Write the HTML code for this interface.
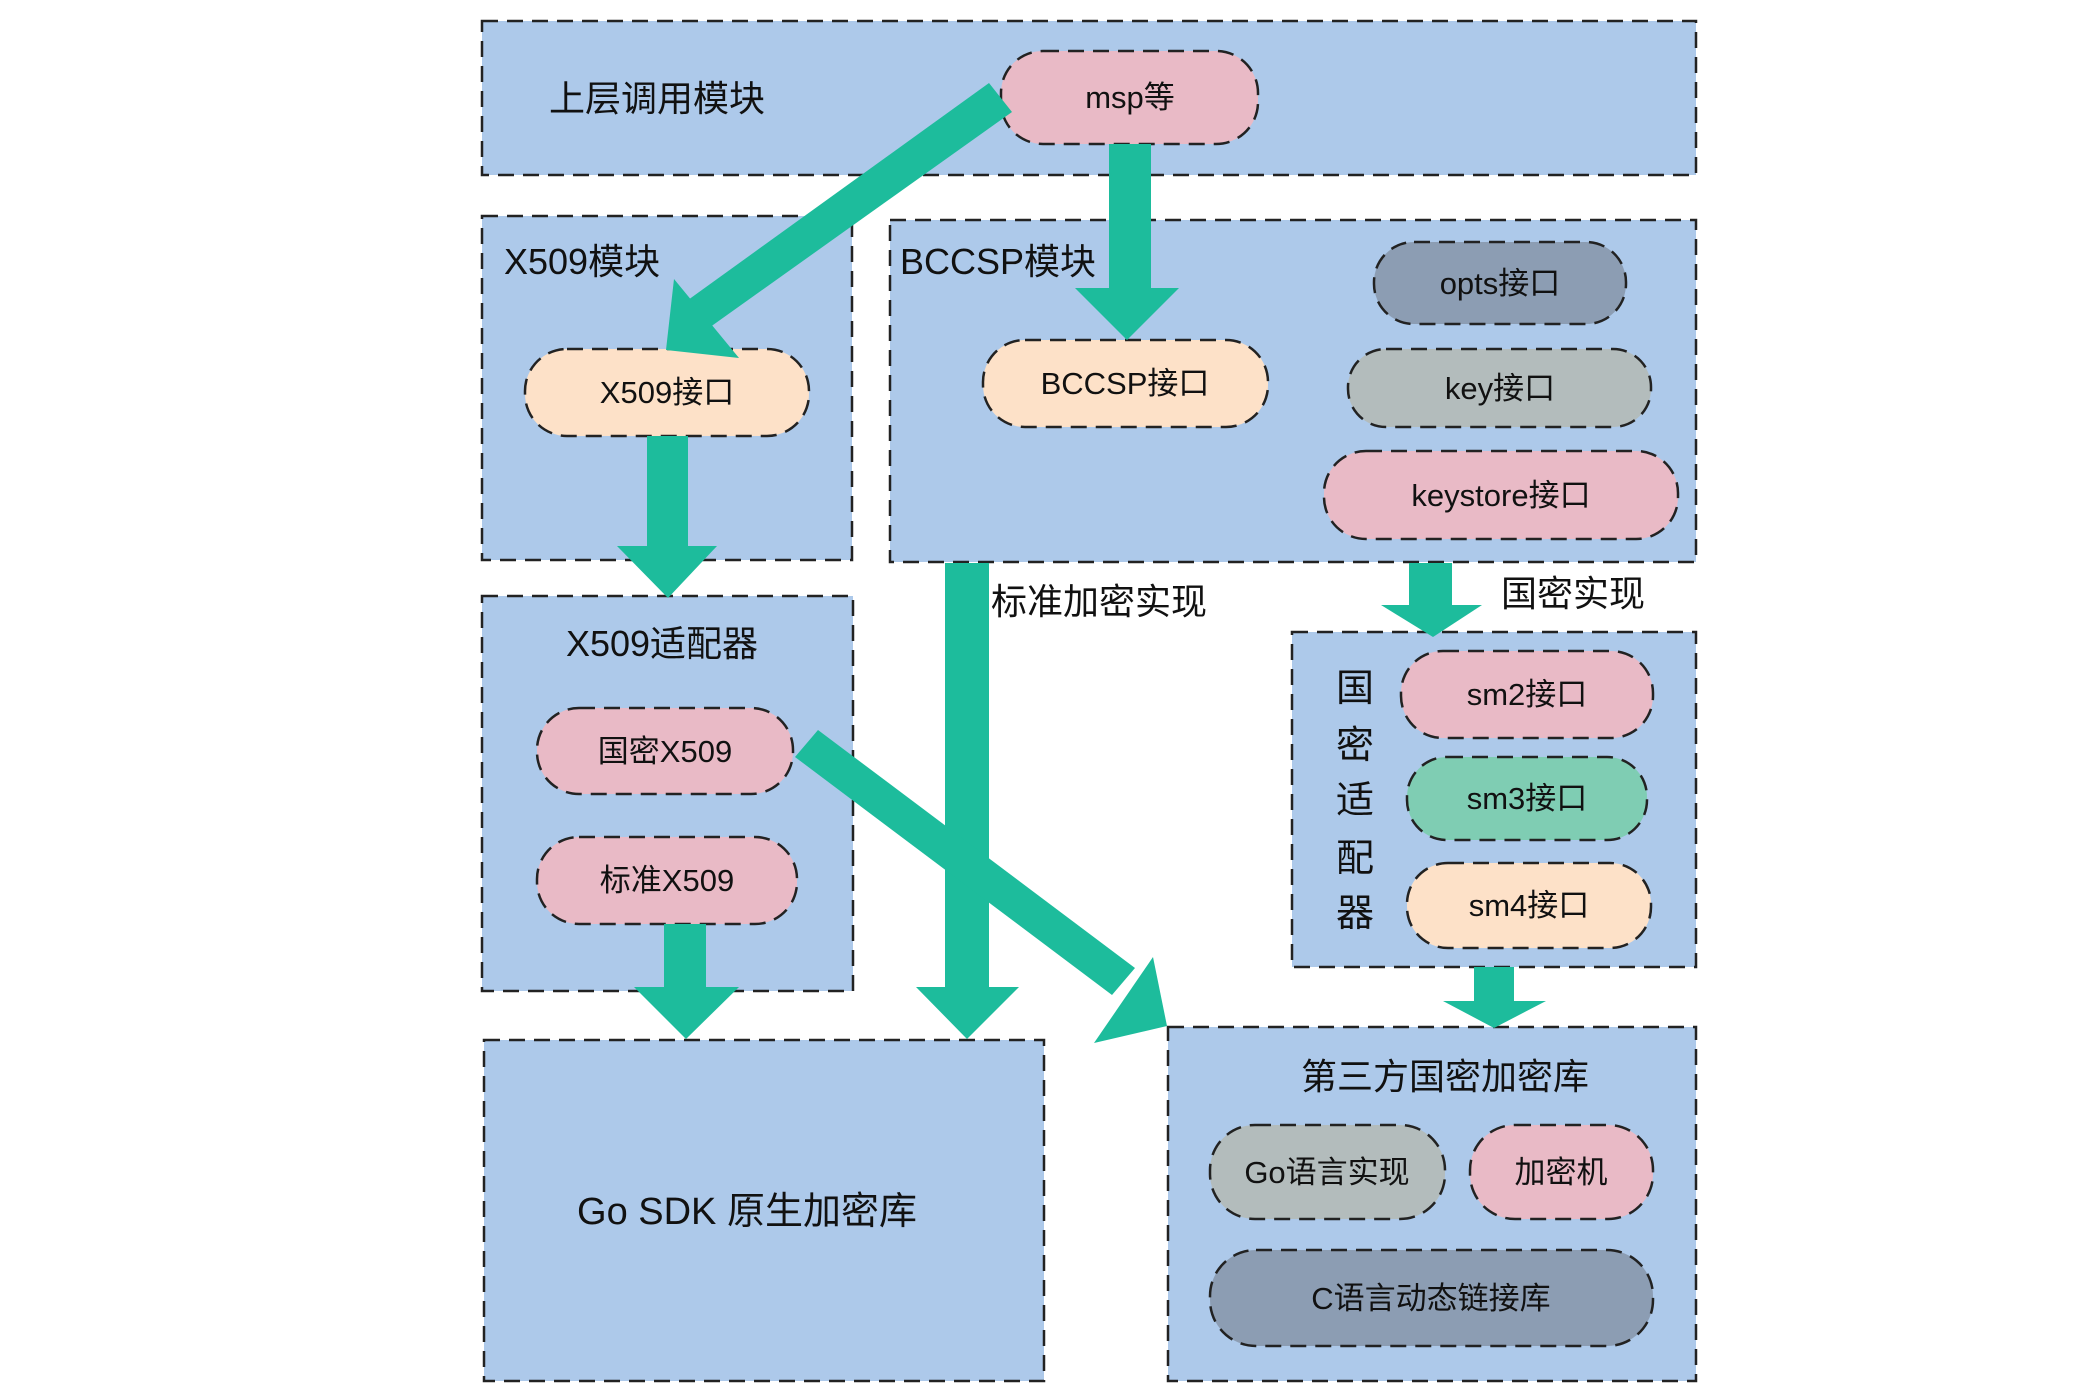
<!DOCTYPE html>
<html><head><meta charset="utf-8"><style>
html,body{margin:0;padding:0;background:#fff;}
svg{display:block;}
text{font-family:"Liberation Sans","Noto Sans CJK SC",sans-serif;fill:#111;}
</style></head><body>
<svg width="2090" height="1394" viewBox="0 0 2090 1394" xmlns="http://www.w3.org/2000/svg">
<g fill="#adc9ea" stroke="#222" stroke-width="2.5" stroke-dasharray="16 9">
<rect x="482" y="21" width="1214" height="154"/>
<rect x="482" y="216" width="370" height="344"/>
<rect x="890" y="220" width="806" height="342"/>
<rect x="482" y="596" width="371" height="395"/>
<rect x="484" y="1040" width="560" height="341"/>
<rect x="1292" y="632" width="404" height="335"/>
<rect x="1168" y="1027" width="528" height="354"/>
</g>
<g stroke="#222" stroke-width="2.5" stroke-dasharray="16 9">
<rect x="1001" y="51" width="257" height="93" rx="42" fill="#e9bac6"/>
<rect x="525" y="349" width="284" height="87" rx="42" fill="#fde1c8"/>
<rect x="983" y="340" width="285" height="87" rx="42" fill="#fde1c8"/>
<rect x="1374" y="242" width="252" height="82" rx="40" fill="#8c9db3"/>
<rect x="1348" y="349" width="303" height="78" rx="38" fill="#b3bcbc"/>
<rect x="1324" y="451" width="354" height="88" rx="42" fill="#e9bac6"/>
<rect x="537" y="708" width="256" height="86" rx="42" fill="#e9bac6"/>
<rect x="537" y="837" width="260" height="87" rx="42" fill="#e9bac6"/>
<rect x="1401" y="651" width="252" height="87" rx="42" fill="#e9bac6"/>
<rect x="1407" y="757" width="240" height="83" rx="40" fill="#7fcdb3"/>
<rect x="1407" y="863" width="244" height="85" rx="41" fill="#fde1c8"/>
<rect x="1210" y="1125" width="235" height="94" rx="45" fill="#b3bcbc"/>
<rect x="1470" y="1125" width="183" height="94" rx="45" fill="#e9bac6"/>
<rect x="1210" y="1250" width="443" height="96" rx="46" fill="#8c9db3"/>
</g>
<g fill="#1dbc9c">
<!-- msp -> X509 diagonal -->
<polygon points="989,83 1012,112 706,330 688,300"/>
<polygon points="674,279 666,350 739,358"/>
<!-- msp -> BCCSP -->
<rect x="1109" y="144" width="42" height="146"/>
<polygon points="1075,288 1179,288 1127,340"/>
<!-- X509接口 -> adapter -->
<rect x="647" y="436" width="41" height="112"/>
<polygon points="617,546 717,546 668,598"/>
<!-- 标准X509 -> Go SDK -->
<rect x="664" y="924" width="42" height="65"/>
<polygon points="634,987 739,987 686,1039"/>
<!-- standard impl -->
<rect x="945" y="563" width="44" height="426"/>
<polygon points="916,987 1019,987 967,1039"/>
<!-- 国密 impl -->
<rect x="1409" y="563" width="43" height="44"/>
<polygon points="1381,605 1482,605 1433,637"/>
<!-- adapter -> third-party -->
<rect x="1474" y="967" width="40" height="36"/>
<polygon points="1443,1001 1546,1001 1494,1028"/>
<!-- 国密X509 -> third party -->
<polygon points="795,757 818,730 1135,968 1112,995"/>
<polygon points="1153,957 1167,1026 1094,1043"/>
</g>
<g font-size="36">
<text x="549" y="111">上层调用模块</text>
<text x="504" y="274">X509模块</text>
<text x="900" y="274">BCCSP模块</text>
<text x="662" y="656" text-anchor="middle">X509适配器</text>
<text x="991" y="614">标准加密实现</text>
<text x="1501" y="606">国密实现</text>
<text x="1445" y="1089" text-anchor="middle">第三方国密加密库</text>
<text x="747" y="1224" text-anchor="middle" font-size="38">Go SDK 原生加密库</text>
</g>
<g font-size="38" text-anchor="middle">
<text x="1355" y="701">国</text>
<text x="1355" y="758">密</text>
<text x="1355" y="813">适</text>
<text x="1355" y="871">配</text>
<text x="1355" y="926">器</text>
</g>
<g font-size="31" text-anchor="middle">
<text x="1130" y="108">msp等</text>
<text x="667" y="403">X509接口</text>
<text x="1125" y="394">BCCSP接口</text>
<text x="1500" y="294">opts接口</text>
<text x="1500" y="399">key接口</text>
<text x="1501" y="506">keystore接口</text>
<text x="665" y="762">国密X509</text>
<text x="667" y="891">标准X509</text>
<text x="1527" y="705">sm2接口</text>
<text x="1527" y="809">sm3接口</text>
<text x="1529" y="916">sm4接口</text>
<text x="1327" y="1183">Go语言实现</text>
<text x="1561" y="1183">加密机</text>
<text x="1431" y="1309">C语言动态链接库</text>
</g>
</svg>
</body></html>
